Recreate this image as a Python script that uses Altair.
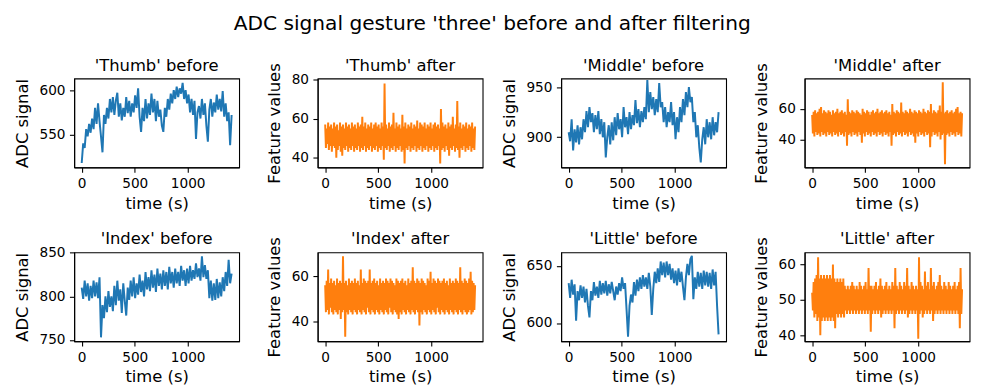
import altair as alt
import pandas as pd

STEP_BEFORE = 14  # spacing of the read-off points (time units)
STEP_AFTER = 7

thumb_before = [518, 540, 535, 556, 548, 562, 552, 568, 556, 580, 562, 585, 565, 548, 530, 572, 562, 580, 568, 590,
                575, 592, 572, 588, 597, 570, 585, 566, 580, 570, 592, 574, 588, 570, 585, 575, 594, 580, 602, 570,
                553, 580, 565, 590, 568, 585, 572, 596, 575, 590, 565, 588, 570, 578, 560, 553, 580, 570, 590, 578,
                596, 585, 600, 590, 604, 592, 602, 596, 608, 590, 600, 585, 595, 575, 590, 572, 588, 545, 575, 582,
                568, 590, 572, 585, 560, 542, 578, 590, 570, 586, 575, 595, 578, 590, 576, 599, 570, 585, 565, 575,
                538, 572]

thumb_after = [57, 45, 55, 47, 58, 44, 56, 46, 57, 43, 55, 46, 58, 45, 56, 40, 57, 44, 54, 46,
               58, 43, 56, 41, 57, 45, 55, 44, 58, 46, 56, 43, 57, 45, 55, 44, 58, 46, 56, 43,
               57, 45, 55, 44, 58, 46, 56, 43, 57, 45, 61, 44, 56, 46, 58, 43, 55, 45, 57, 44,
               56, 46, 58, 43, 55, 45, 57, 44, 58, 46, 56, 43, 57, 45, 55, 44, 58, 46, 56, 39,
               78, 45, 57, 44, 55, 46, 58, 43, 56, 45, 57, 44, 63, 46, 55, 43, 58, 45, 56, 44,
               57, 46, 55, 43, 62, 44, 56, 37, 58, 45, 55, 44, 57, 46, 56, 43, 58, 45, 55, 44,
               57, 46, 56, 43, 59, 45, 55, 44, 58, 46, 57, 43, 56, 45, 58, 44, 55, 46, 57, 43,
               56, 45, 58, 44, 55, 46, 57, 43, 58, 45, 56, 44, 57, 46, 55, 37, 65, 44, 58, 45,
               56, 43, 57, 46, 55, 44, 58, 41, 56, 45, 57, 44, 61, 46, 55, 43, 57, 45, 69, 44,
               56, 40, 58, 45, 55, 44, 57, 46, 56, 43, 58, 45, 55, 44, 57, 46, 56, 43, 58, 45,
               55, 44, 56]

middle_before = [905, 896, 918, 887, 908, 895, 912, 893, 910, 898, 918, 905, 926, 910, 930, 915, 924, 905, 922, 908,
                 926, 903, 918, 900, 915, 880, 900, 912, 893, 915, 897, 920, 902, 924, 908, 918, 900, 930, 910, 920,
                 903, 925, 908, 922, 912, 937, 914, 928, 910, 926, 915, 930, 918, 957, 925, 945, 928, 940, 922, 938,
                 925, 954, 930, 935, 915, 930, 910, 925, 915, 935, 912, 925, 898, 920, 905, 930, 915, 938, 922, 945,
                 930, 950, 935, 940, 915, 925, 900, 912, 890, 875, 898, 910, 893, 918, 900, 915, 898, 920, 902, 915,
                 905, 925]

middle_after = [56, 44, 58, 42, 59, 45, 57, 43, 58, 44, 60, 42, 61, 45, 57, 43, 59, 44, 58, 42,
                57, 45, 59, 43, 58, 44, 56, 42, 59, 45, 57, 43, 58, 44, 60, 42, 57, 45, 58, 43,
                59, 44, 57, 42, 58, 45, 56, 36, 66, 43, 58, 44, 57, 42, 59, 45, 58, 43, 57, 44,
                59, 42, 58, 45, 57, 43, 56, 38, 60, 44, 58, 42, 57, 45, 59, 43, 58, 44, 56, 42,
                58, 45, 59, 43, 57, 44, 58, 42, 60, 45, 57, 43, 58, 44, 59, 42, 57, 45, 58, 43,
                59, 44, 57, 42, 58, 45, 56, 36, 63, 43, 58, 44, 57, 42, 59, 45, 58, 43, 57, 44,
                64, 42, 58, 45, 57, 43, 59, 44, 58, 42, 57, 45, 60, 43, 58, 44, 57, 42, 59, 38,
                58, 44, 57, 42, 59, 45, 58, 43, 57, 44, 60, 42, 58, 45, 57, 43, 59, 44, 58, 35,
                63, 42, 57, 45, 59, 43, 58, 44, 57, 42, 59, 45, 62, 40, 58, 43, 77, 44, 57, 24,
                58, 43, 59, 44, 57, 42, 58, 45, 59, 43, 57, 44, 58, 42, 60, 45, 61, 43, 57, 44,
                58, 42, 57]

index_before = [810, 797, 818, 800, 815, 795, 812, 798, 818, 800, 816, 798, 822, 753, 790, 775, 800, 782, 806, 788,
                800, 783, 812, 790, 818, 795, 808, 781, 815, 795, 778, 810, 796, 818, 800, 822, 798, 815, 802, 825,
                805, 818, 800, 828, 808, 822, 806, 830, 810, 825, 805, 832, 812, 826, 808, 830, 812, 828, 808, 834,
                815, 828, 810, 832, 815, 828, 812, 835, 818, 830, 812, 832, 815, 835, 818, 830, 820, 838, 822, 832,
                818, 846, 822, 836, 820, 830, 798, 818, 795, 815, 796, 820, 798, 816, 800, 822, 806, 828, 812, 842,
                815, 826]

index_after = [56, 44, 58, 45, 63, 43, 57, 46, 59, 44, 57, 43, 58, 45, 56, 44, 59, 43, 57, 45,
               58, 41, 57, 44, 69, 45, 57, 33, 58, 44, 56, 43, 59, 45, 57, 44, 58, 43, 57, 45,
               59, 44, 57, 43, 58, 45, 56, 44, 63, 43, 57, 45, 59, 44, 58, 43, 57, 46, 58, 44,
               63, 43, 57, 45, 58, 44, 59, 43, 57, 45, 58, 44, 56, 43, 59, 45, 57, 44, 58, 43,
               57, 45, 59, 44, 58, 43, 57, 46, 59, 44, 58, 43, 57, 45, 56, 44, 59, 43, 58, 41,
               57, 44, 58, 43, 59, 45, 57, 44, 58, 43, 56, 45, 59, 44, 57, 43, 58, 45, 64, 44,
               58, 43, 57, 45, 59, 44, 58, 38, 57, 44, 59, 43, 58, 45, 57, 44, 56, 43, 59, 45,
               58, 44, 62, 43, 57, 45, 59, 44, 58, 43, 57, 46, 59, 44, 58, 43, 57, 45, 58, 44,
               59, 43, 57, 45, 58, 44, 56, 43, 59, 45, 57, 44, 58, 43, 57, 45, 59, 44, 58, 43,
               57, 45, 64, 44, 58, 43, 57, 45, 59, 44, 58, 43, 57, 44, 59, 45, 62, 43, 58, 44,
               57, 45, 56]

little_before = [635, 622, 638, 625, 634, 602, 628, 620, 633, 622, 632, 618, 630, 615, 605, 628, 620, 636, 624, 632,
                 622, 637, 625, 635, 626, 637, 624, 634, 626, 636, 628, 620, 632, 625, 635, 628, 640, 630, 635, 612,
                 588, 615, 625, 618, 636, 624, 638, 628, 640, 630, 642, 632, 640, 630, 644, 632, 607, 630, 645, 635,
                 648, 636, 654, 642, 653, 640, 654, 642, 652, 638, 648, 635, 646, 633, 648, 636, 645, 632, 620, 640,
                 652, 642, 656, 659, 621, 640, 630, 645, 632, 644, 630, 646, 633, 645, 632, 644, 630, 647, 633, 645,
                 615, 590]

little_after = [52, 47, 55, 45, 56, 46, 57, 44, 62, 45, 56, 40, 57, 44, 56, 45, 57, 44, 56, 45,
                57, 44, 56, 45, 57, 44, 56, 45, 60, 44, 56, 42, 55, 46, 56, 45, 55, 46, 56, 45,
                55, 46, 56, 45, 54, 47, 53, 46, 54, 47, 53, 46, 54, 47, 55, 46, 54, 47, 53, 46,
                54, 47, 53, 46, 55, 47, 54, 46, 53, 47, 54, 46, 55, 47, 53, 46, 59, 47, 54, 41,
                54, 46, 53, 47, 54, 46, 55, 47, 53, 46, 54, 47, 56, 45, 54, 46, 53, 47, 54, 46,
                55, 47, 53, 46, 54, 47, 53, 46, 55, 47, 54, 42, 59, 46, 54, 47, 53, 46, 55, 47,
                54, 46, 53, 47, 55, 46, 54, 47, 59, 45, 54, 46, 53, 47, 55, 46, 54, 47, 53, 46,
                54, 47, 53, 39, 62, 46, 55, 47, 54, 45, 53, 46, 58, 47, 54, 46, 55, 47, 53, 46,
                59, 47, 54, 44, 55, 46, 53, 47, 54, 46, 55, 47, 57, 46, 54, 47, 53, 46, 55, 47,
                54, 46, 53, 47, 55, 46, 54, 47, 53, 46, 54, 47, 55, 46, 53, 47, 54, 46, 55, 42,
                59, 46, 53]

BLUE = "#1f77b4"
ORANGE = "#ff7f0e"
FONT = "DejaVu Sans"
W, H = 167, 90

panels_spec = [
    ("'Thumb' before", thumb_before, STEP_BEFORE, "ADC signal", BLUE, [513, 613], [550, 600]),
    ("'Thumb' after", thumb_after, STEP_AFTER, "Feature values", ORANGE, [35, 80.6], [40, 60, 80]),
    ("'Middle' before", middle_before, STEP_BEFORE, "ADC signal", BLUE, [870, 958.5], [900, 950]),
    ("'Middle' after", middle_after, STEP_AFTER, "Feature values", ORANGE, [22, 79.5], [40, 60]),
    ("'Index' before", index_before, STEP_BEFORE, "ADC signal", BLUE, [748.5, 850.5], [750, 800, 850]),
    ("'Index' after", index_after, STEP_AFTER, "Feature values", ORANGE, [31, 70.7], [40, 60]),
    ("'Little' before", little_before, STEP_BEFORE, "ADC signal", BLUE, [584, 662], [600, 650]),
    ("'Little' after", little_after, STEP_AFTER, "Feature values", ORANGE, [38.3, 63.4], [40, 50, 60]),
]


def panel(title, values, step, ytitle, color, ydom, yticks):
    df = pd.DataFrame({"t": [step * i for i in range(len(values))], "v": values})
    line = (
        alt.Chart(df)
        .mark_line(color=color, strokeWidth=2, clip=True)
        .encode(
            x=alt.X("t:Q", scale=alt.Scale(domain=[-71, 1485], nice=False, zero=False),
                    axis=alt.Axis(values=[0, 500, 1000], title="time (s)", format="d",
                                  titlePadding=5)),
            y=alt.Y("v:Q", scale=alt.Scale(domain=ydom, nice=False, zero=False),
                    axis=alt.Axis(values=yticks, title=ytitle, format="d", titlePadding=8.5)),
        )
    )
    head = (
        alt.Chart(pd.DataFrame({"label": [title]}))
        .mark_text(font=FONT, fontSize=16.6, color="black", baseline="alphabetic", align="center")
        .encode(text="label:N", x=alt.value(W / 2), y=alt.value(-8))
    )
    return alt.layer(line, head).properties(width=W, height=H)


charts = [panel(*p) for p in panels_spec]

chart = (
    alt.concat(*charts, columns=4, spacing={"row": 86, "column": 79.5}, bounds="flush")
    .properties(
        title=alt.TitleParams("ADC signal gesture 'three' before and after filtering",
                              font=FONT, fontSize=20.4, fontWeight="normal", color="black",
                              anchor="middle", offset=23),
        padding={"left": 6, "top": 4, "right": 5, "bottom": 5},
    )
    .configure_view(stroke="black", strokeWidth=1.1)
    .configure_axis(
        grid=False, domainColor="black", domainWidth=1.1, tickColor="black", tickWidth=1.1,
        tickSize=4.8, labelFont=FONT, labelFontSize=13.8, labelColor="black", labelPadding=4.5,
        titleFont=FONT, titleFontSize=16.6, titleFontWeight="normal", titleColor="black",
    )
)

chart.save("out.html", embed_options={"renderer": "svg", "actions": False})
